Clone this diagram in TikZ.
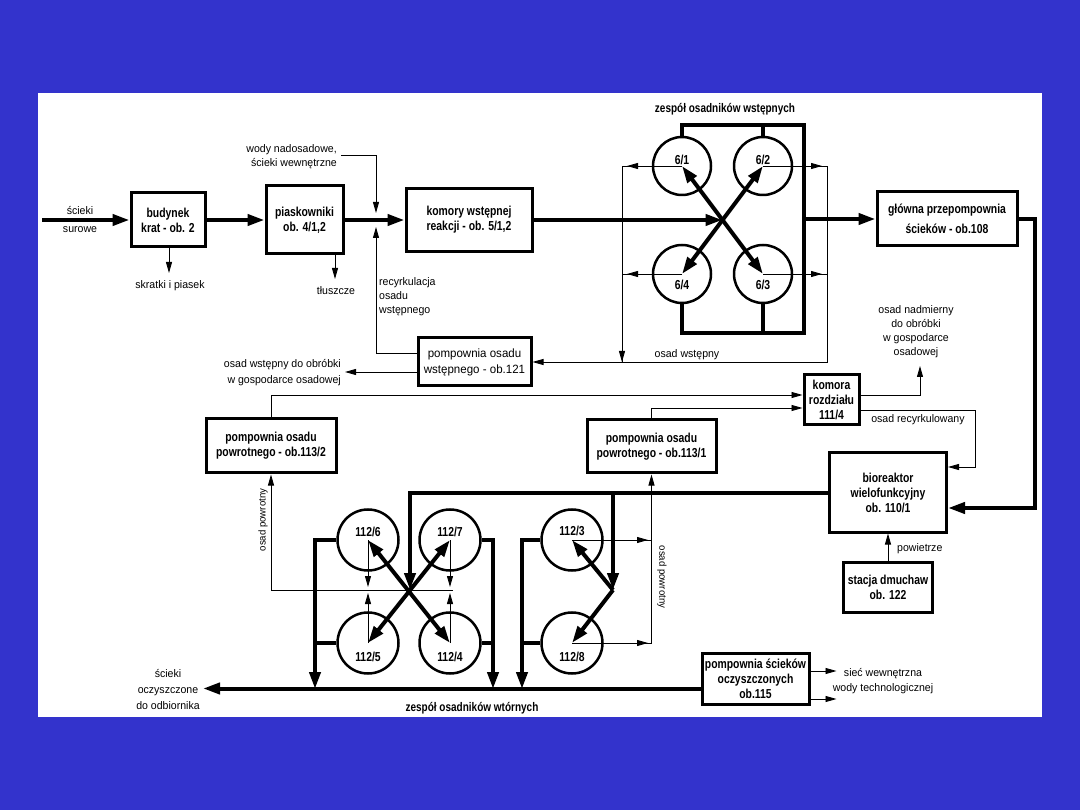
\documentclass[tikz,border=0pt]{standalone}
\usepackage{fontspec}
\setmainfont{Liberation Sans}
\newfontfamily\nbfam[FakeStretch=0.8]{Liberation Sans}
\newfontfamily\nrfam[FakeStretch=0.96]{Liberation Sans}
\newcommand\boxfont{\nbfam\bfseries\fontsize{13}{15}\selectfont}
\newcommand\txtfont{\nrfam\fontsize{11}{14}\selectfont}
\usetikzlibrary{arrows.meta}
\definecolor{bgblue}{RGB}{51,51,204}
\begin{document}
\begin{tikzpicture}[x=1pt,y=-1pt,
  thk/.style={line width=4pt},
  thn/.style={line width=0.9pt},
  box/.style={draw,line width=3pt,inner sep=0pt,align=center,font=\boxfont},
  circ/.style={draw,circle,line width=2.5pt,inner sep=0pt,minimum size=#1},
  circ/.default=58pt,
  clab/.style={inner sep=0pt,font=\boxfont},
  txt/.style={inner sep=0pt,align=center,font=\txtfont},
  ttl/.style={inner sep=0pt,font=\nbfam\bfseries\fontsize{12.5}{14}\selectfont},
  BigT/.tip={Triangle[length=17pt,width=11pt]},
  SmT/.tip={Triangle[length=11pt,width=6pt]},
]
% background
\fill[bgblue] (0,0) rectangle (1080,810);
\fill[white] (38,93) rectangle (1042,717);

% ---------- boxes ----------
\node[box,minimum width=74pt,minimum height=54pt] (budynek) at (168,220) {budynek\\krat - ob. 2};
\node[box,minimum width=77pt,minimum height=68pt] (piask) at (304.5,220) {piaskowniki\\ob. 4/1,2};
\node[box,minimum width=126pt,minimum height=63pt] (komory) at (469,220) {komory wstępnej\\reakcji - ob. 5/1,2};
\node[box,minimum width=140pt,minimum height=54pt,font=\nbfam\bfseries\fontsize{13}{20}\selectfont] (glowna) at (947,219) {główna przepompownia\\ścieków - ob.108};
\node[box,minimum width=113pt,minimum height=48pt,font=\nrfam\fontsize{12}{16}\selectfont] (p121) at (474.5,362) {pompownia osadu\\wstępnego - ob.121};
\node[box,minimum width=130pt,minimum height=54pt] (p1132) at (271,446) {pompownia osadu\\powrotnego - ob.113/2};
\node[box,minimum width=129pt,minimum height=53pt] (p1131) at (651.5,446.5) {pompownia osadu\\powrotnego - ob.113/1};
\node[box,minimum width=55pt,minimum height=50pt] (komora) at (831.5,400) {komora\\rozdziału\\111/4};
\node[box,minimum width=117pt,minimum height=79pt] (bio) at (888,492.5) {bioreaktor\\wielofunkcyjny\\ob. 110/1};
\node[box,minimum width=89pt,minimum height=50pt] (stacja) at (888,587) {stacja dmuchaw\\ob. 122};
\node[box,minimum width=107pt,minimum height=51pt] (p115) at (755.5,678.5) {pompownia ścieków\\oczyszczonych\\ob.115};

% ---------- primary settlers ----------
\node[circ] (c61) at (682,166) {};
\node[circ] (c62) at (763,166) {};
\node[circ] (c64) at (682,274) {};
\node[circ] (c63) at (763,274) {};
\node[clab] (l61) at (682,160) {6/1};
\node[clab] (l62) at (763,160) {6/2};
\node[clab] (l64) at (682,285) {6/4};
\node[clab] (l63) at (763,285) {6/3};

% ---------- secondary settlers ----------
\node[circ=61pt] (c6) at (368,540) {};
\node[circ=61pt] (c7) at (450,540) {};
\node[circ=61pt] (c5) at (368,643) {};
\node[circ=61pt] (c4) at (450,643) {};
\node[circ=61pt] (c3) at (572,540) {};
\node[circ=61pt] (c8) at (572,643) {};
\node[clab] (l6) at (368,532) {112/6};
\node[clab] (l7) at (450,532) {112/7};
\node[clab] (l5) at (368,657) {112/5};
\node[clab] (l4) at (450,657) {112/4};
\node[clab] (l3) at (572,531) {112/3};
\node[clab] (l8) at (572,657) {112/8};

% ---------- coordinates ----------
\coordinate (in) at (42,220);
\coordinate (xc) at (722.5,220);
\coordinate (tl) at (682,125);
\coordinate (tr) at (804,125);
\coordinate (bl) at (682,333);
\coordinate (br) at (804,333);
\coordinate (lv) at (622,362);
\coordinate (rv) at (827,362);
\coordinate (wody) at (341,155);
\coordinate (wdn) at (376,213);
\coordinate (rcy) at (376,227);
\coordinate (osw) at (345,372);
\coordinate (nadm) at (920,366);
\coordinate (rcv) at (975,467);
\coordinate (gv) at (1035,508);
\coordinate (xc2) at (410,590);
\coordinate (vc) at (613,590);
\coordinate (ph) at (453,590);
\coordinate (b1) at (315,689);
\coordinate (b2) at (493,689);
\coordinate (b3) at (522,689);
\coordinate (pv2) at (652,643);
\coordinate (outl) at (203,688.5);
\coordinate (skr) at (169,273);
\coordinate (tlu) at (335,279);

% ---------- main thick line ----------
\draw[thk,-BigT] (in) -- (budynek.west);
\draw[thk,-BigT] (budynek.east) -- (piask.west);
\draw[thk,-BigT] (piask.east) -- (komory.west);
\draw[thk,-BigT] (komory.east) -- (xc);
\draw[thk,BigT-BigT] (c61.center) -- (c63.center);
\draw[thk,BigT-BigT] (c62.center) -- (c64.center);
\draw[thk] (c61.north) -- (tl) -- (tr) -- (br) -- (bl) -- (c64.south);
\draw[thk] (c62.north) -- (c62.north |- tl);
\draw[thk] (c63.south) -- (c63.south |- bl);
\draw[thk,-BigT] (tr |- glowna.west) -- (glowna.west);
\draw[thk,-BigT] (glowna.east) -| (gv) -- (gv -| bio.east);

% side outputs
\draw[thn,-SmT] (budynek.south -| skr) -- (skr);
\draw[thn,-SmT] (piask.south -| tlu) -- (tlu);
\draw[thn,-SmT] (wody) -| (wdn);
\draw[thn,-SmT] ([yshift=9pt]p121.west) -| (rcy);
\draw[thn,-SmT] ([yshift=-10pt]p121.west) -- (osw);

% primary sludge lines
\draw[thn] (c61.center) -| (lv);
\draw[thn] (c64.center) -- (c64.center -| lv);
\draw[thn,-SmT] (c61.center) -- ++(-55,0);
\draw[thn,-SmT] (c64.center) -- ++(-55,0);
\draw[thn,-SmT] (lv |- c64.center) -- (lv);
\draw[thn,-SmT] (c62.center) -| (rv) -- (p121.east);
\draw[thn] (c63.center) -- (c63.center -| rv);
\draw[thn,-SmT] (c62.center) -- ++(59,0);
\draw[thn,-SmT] (c63.center) -- ++(59,0);

% komora rozdzialu
\draw[thn,-SmT] (p1132.north) |- ([yshift=5pt]komora.west);
\draw[thn,-SmT] (p1131.north) |- ([yshift=-8pt]komora.west);
\draw[thn,-SmT] ([yshift=5pt]komora.east) -| (nadm);
\draw[thn,-SmT] ([yshift=-10pt]komora.east) -| (rcv) -- (rcv -| bio.east);

% bioreactor outputs
\draw[thk,-BigT] (bio.west) -| (xc2);
\draw[thk,-BigT] (bio.west -| vc) -- (vc);
\draw[thn,-SmT] (stacja.north) -- (bio.south);

% secondary settlers
\draw[thk,BigT-BigT] (c6.center) -- (c4.center);
\draw[thk,BigT-BigT] (c7.center) -- (c5.center);
\draw[thk,-BigT] (vc) -- (c3.center);
\draw[thk,-BigT] (vc) -- (c8.center);
\draw[thk,-BigT] (c6.west) -| (b1);
\draw[thk] (c5.west) -- (c5.west -| b1);
\draw[thk,-BigT] (c7.east) -| (b2);
\draw[thk] (c4.east) -- (c4.east -| b2);
\draw[thk,-BigT] (c3.west) -| (b3);
\draw[thk] (c8.west) -- (c8.west -| b3);
\draw[thk,-BigT] ([yshift=-10pt]p115.west) -- (outl);

% return sludge
\draw[thn,-SmT] (c6.center) -- ++(0,47);
\draw[thn,-SmT] (c5.center) -- ++(0,-50);
\draw[thn,-SmT] (c7.center) -- ++(0,47);
\draw[thn,-SmT] (c4.center) -- ++(0,-50);
\draw[thn,-SmT] (ph) -| (p1132.south);
\draw[thn,-SmT] (c3.center) -- ++(76,0);
\draw[thn] (c3.center) -- (c3.center -| pv2);
\draw[thn,-SmT] (c8.center) -- ++(76,0);
\draw[thn,-SmT] (c8.center) -| (p1131.south);

% treated water outputs
\draw[thn,-SmT] ([yshift=7.5pt]p115.east) -- ++(26,0);
\draw[thn,-SmT] ([yshift=-20.5pt]p115.east) -- ++(26,0);

% ---------- texts ----------
\node[txt] (t1a) at (80,211) {ścieki};
\node[txt] (t1b) at (80,230) {surowe};
\node[txt] (t2) at (170,286) {skratki i piasek};
\node[txt] (t3) at (336,291) {tłuszcze};
\node[txt,align=right,anchor=east] (t4) at (337,157) {wody nadosadowe,\\ścieki wewnętrzne};
\node[txt,align=left,anchor=west] (t5) at (379,296.5) {recyrkulacja\\osadu\\wstępnego};
\node[ttl] (t6) at (725,109) {zespół osadników wstępnych};
\node[txt] (t7) at (687,355) {osad wstępny};
\node[txt] (t8) at (916,332) {osad nadmierny\\do obróbki\\w gospodarce\\osadowej};
\node[txt,align=right,anchor=east,font=\nrfam\fontsize{11}{16}\selectfont] (t9) at (341,373) {osad wstępny do obróbki\\w gospodarce osadowej};
\node[txt] (t10) at (918,420) {osad recyrkulowany};
\node[txt,anchor=west] (t11) at (897,549) {powietrze};
\node[txt,rotate=90,font=\nrfam\fontsize{10}{12}\selectfont] (t12) at (263,520) {osad powrotny};
\node[txt,rotate=-90,font=\nrfam\fontsize{10}{12}\selectfont] (t13) at (662,577) {osad powrotny};
\node[txt,font=\nrfam\fontsize{11}{16}\selectfont] (t14) at (168,690) {ścieki\\oczyszczone\\do odbiornika};
\node[txt,font=\nrfam\fontsize{11}{15}\selectfont] (t15) at (883,681) {sieć wewnętrzna\\wody technologicznej};
\node[ttl] (t16) at (472,708) {zespół osadników wtórnych};
\end{tikzpicture}
\end{document}
